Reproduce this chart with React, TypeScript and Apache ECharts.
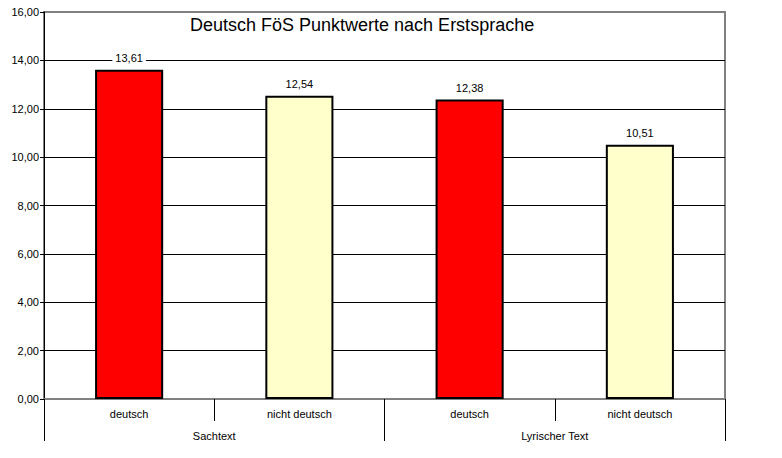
import React, { useEffect, useRef } from "react";
import * as echarts from "echarts";

const title = "Deutsch FöS Punktwerte nach Erstsprache";
const categories = ["deutsch", "nicht deutsch", "deutsch", "nicht deutsch"];
const groups = ["Sachtext", "Lyrischer Text"];
const values = [13.61, 12.54, 12.38, 10.51];
const barColors = ["#FF0000", "#FFFFCC", "#FF0000", "#FFFFCC"];

const FONT = "'Liberation Sans', Arial, sans-serif";
const fmt = (v: number) => v.toFixed(2).replace(".", ",");

export default function App() {
  const ref = useRef<HTMLDivElement>(null);
  useEffect(() => {
    if (!ref.current) return;
    const chart = echarts.init(ref.current, null, { renderer: "svg" });
    chart.setOption({
      animation: false,
      backgroundColor: "#ffffff",
      title: {
        text: title,
        left: 190,
        top: 16,
        padding: 0,
        textStyle: { fontFamily: FONT, fontSize: 18, fontWeight: "normal", color: "#000" },
      },
      grid: {
        left: 44,
        top: 12,
        right: 57,
        bottom: 59,
        show: true,
        borderColor: "#808080",
        borderWidth: 2,
        backgroundColor: "#ffffff",
      },
      xAxis: [
        {
          type: "category",
          data: categories,
          position: "bottom",
          axisLine: { show: true, lineStyle: { color: "#808080", width: 2 } },
          axisTick: { show: true, length: 22, lineStyle: { color: "#000", width: 1 } },
          axisLabel: { margin: 9, fontFamily: FONT, fontSize: 11, color: "#000" },
          splitLine: { show: false },
        },
        {
          type: "category",
          data: groups,
          position: "bottom",
          axisLine: { show: false },
          axisTick: { show: true, length: 42, lineStyle: { color: "#000", width: 1 } },
          axisLabel: { margin: 31, fontFamily: FONT, fontSize: 11, color: "#000" },
          splitLine: { show: false },
        },
      ],
      yAxis: {
        type: "value",
        min: 0,
        max: 16,
        interval: 2,
        axisLine: { show: true, lineStyle: { color: "#000", width: 1 } },
        axisTick: { show: true, length: 4, lineStyle: { color: "#000" } },
        axisLabel: {
          formatter: (v: number) => fmt(v),
          fontFamily: FONT,
          fontSize: 11,
          color: "#000",
          margin: 5,
        },
        splitLine: {
          show: true,
          showMaxLine: false,
          lineStyle: { color: "#000", width: 1 },
        },
      },
      series: [
        {
          type: "bar",
          xAxisIndex: 0,
          barWidth: "40%",
          data: values.map((v, i) => ({
            value: v,
            itemStyle: { color: barColors[i], borderColor: "#000", borderWidth: 2 },
          })),
          label: {
            show: true,
            position: "top",
            distance: 6,
            formatter: (p: any) => fmt(p.value),
            fontFamily: FONT,
            fontSize: 11,
            color: "#000",
            backgroundColor: "#fff",
            padding: [0, 3],
          },
        },
      ],
    });
    return () => chart.dispose();
  }, []);
  return (
    <div
      ref={ref}
      style={{ position: "fixed", left: 0, top: 0, width: 782, height: 458, background: "#fff" }}
    />
  );
}
